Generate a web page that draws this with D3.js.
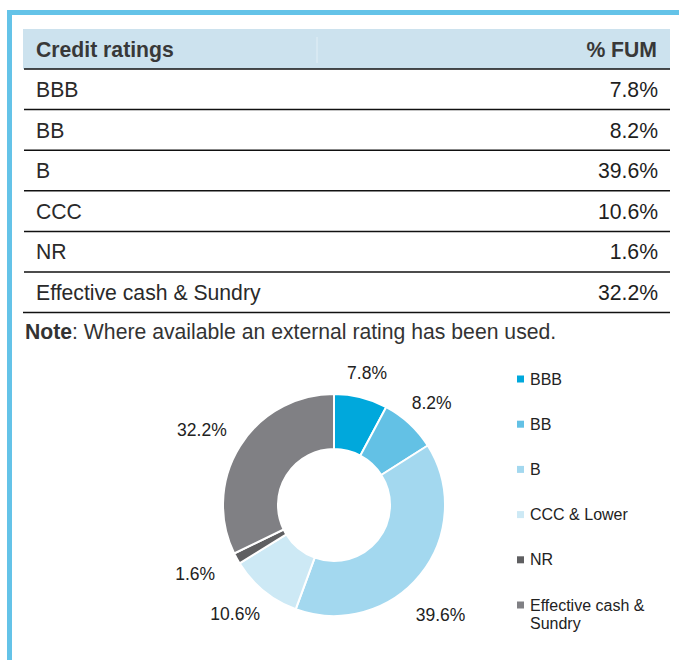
<!DOCTYPE html>
<html>
<head>
<meta charset="utf-8">
<script src="https://cdn.jsdelivr.net/npm/d3@7"></script>
<style>
  html, body { margin: 0; padding: 0; background: #fff; }
  svg { display: block; font-family: Arial, "Liberation Sans", sans-serif; }
</style>
</head>
<body>
<svg id="viz" width="679" height="660"></svg>
<script>
"use strict";
// table + donut data
const tableRatings = ["BBB", "BB", "B", "CCC", "NR", "Effective cash & Sundry"];
const tableFum = [7.8, 8.2, 39.6, 10.6, 1.6, 32.2];
const legendLabels = ["BBB", "BB", "B", "CCC & Lower", "NR", "Effective cash & Sundry"];
const sliceColors = ["#00a8dc", "#63c1e5", "#a3d8ef", "#cde9f5", "#5f5f61", "#808084"];
const headers = ["Credit ratings", "% FUM"];
const noteText = ": Where available an external rating has been used.";

let svg = d3.select("#viz"), w = 679, h = 660;
let fmt = (v) => `${d3.format(".1f")(v)}%`;

// blue frame
svg.append("rect").attr("x", 7).attr("y", 10).attr("width", w - 7).attr("height", 5).attr("fill", "#64c3e8");
svg.append("rect").attr("x", 7).attr("y", 10).attr("width", 5).attr("height", h - 10).attr("fill", "#64c3e8");

// table
let tbl = { left: 23, right: 670, top: 29, headH: 40, rowH: 40.6, textX: 36, valX: 658 };
svg.append("rect")
    .attr("x", tbl.left).attr("y", tbl.top)
    .attr("width", tbl.right - tbl.left).attr("height", tbl.headH)
    .attr("fill", "#cce2ee");
svg.append("line")
    .attr("x1", 317).attr("x2", 317).attr("y1", tbl.top + 8).attr("y2", tbl.top + tbl.headH - 6)
    .attr("stroke", "#e2eff6").attr("stroke-width", 1);
svg.append("text").attr("x", tbl.textX).attr("y", 57)
    .attr("font-size", 21.2).attr("font-weight", "bold").attr("fill", "#383838")
    .text(headers[0]);
svg.append("text").attr("x", tbl.valX - 1).attr("y", 57).attr("text-anchor", "end")
    .attr("font-size", 21.2).attr("font-weight", "bold").attr("fill", "#383838")
    .text(headers[1]);

let rowY = d3.scaleLinear().domain([0, 1]).range([tbl.top + tbl.headH, tbl.top + tbl.headH + tbl.rowH]);
let rows = svg.selectAll(".row").data(tableRatings).enter().append("g").attr("class", "row");
rows.append("line")
    .attr("x1", tbl.left + 1).attr("x2", tbl.right)
    .attr("y1", (d, i) => rowY(i)).attr("y2", (d, i) => rowY(i))
    .attr("stroke", "#111").attr("stroke-width", 1.5);
rows.append("text")
    .attr("x", tbl.textX).attr("y", (d, i) => rowY(i) + 28)
    .attr("font-size", 21.2).attr("fill", "#2a2a2a")
    .text(d => d);
rows.append("text")
    .attr("x", tbl.valX).attr("y", (d, i) => rowY(i) + 28).attr("text-anchor", "end")
    .attr("font-size", 21.2).attr("fill", "#1e1e1e")
    .text((d, i) => fmt(tableFum[i]));
svg.append("line")
    .attr("x1", tbl.left).attr("x2", tbl.right)
    .attr("y1", rowY(tableRatings.length)).attr("y2", rowY(tableRatings.length))
    .attr("stroke", "#111").attr("stroke-width", 1.5);

// note
let note = svg.append("text").attr("x", 25).attr("y", 339).attr("font-size", 21.2).attr("fill", "#333");
note.append("tspan").attr("font-weight", "bold").text("Note");
note.append("tspan").text(noteText);

// donut
let cx = 334, cy = 505, outerR = 111, innerR = 56;
let pie = d3.pie().sort(null).value(d => d);
let arcs = pie(tableFum);
let arc = d3.arc().innerRadius(innerR).outerRadius(outerR);
let g = svg.append("g").attr("transform", `translate(${cx}, ${cy})`);
g.selectAll(".slice").data(arcs).enter().append("path")
    .attr("class", "slice")
    .attr("d", arc)
    .attr("fill", (d, i) => sliceColors[i])
    .attr("stroke", "#fff").attr("stroke-width", 2);

// outside labels, nudged a bit the way the source tool spreads them
let labelR = [136, 141, 153, 147, 155, 152];
let labelNudge = [0, 1, 7, 3, 2.4, -2.4].map(a => a * Math.PI / 180);
g.selectAll(".pct").data(arcs).enter().append("text")
    .attr("class", "pct")
    .attr("transform", (d, i) => {
        let a = (d.startAngle + d.endAngle) / 2 + labelNudge[i];
        return `translate(${labelR[i] * Math.sin(a)}, ${-labelR[i] * Math.cos(a)})`;
    })
    .attr("text-anchor", "middle").attr("dy", "0.35em")
    .attr("font-size", 17.5).attr("fill", "#222")
    .text(d => fmt(d.data));

// legend
let legY = d3.scalePoint().domain(legendLabels).range([379, 605]);
let leg = svg.selectAll(".leg").data(legendLabels).enter().append("g")
    .attr("class", "leg")
    .attr("transform", d => `translate(517, ${legY(d)})`);
leg.append("rect").attr("x", 0).attr("y", -3.5).attr("width", 7).attr("height", 7)
    .attr("fill", (d, i) => sliceColors[i]);
leg.append("text").attr("x", 13).attr("dy", "0.35em")
    .attr("font-size", 16).attr("fill", "#222")
    .each(function (d) {
        let t = d3.select(this);
        if (d === "Effective cash & Sundry") {
            t.append("tspan").attr("x", 13).text("Effective cash &");
            t.append("tspan").attr("x", 13).attr("dy", "1.15em").text("Sundry");
        } else {
            t.text(d);
        }
    });
</script>
</body>
</html>
